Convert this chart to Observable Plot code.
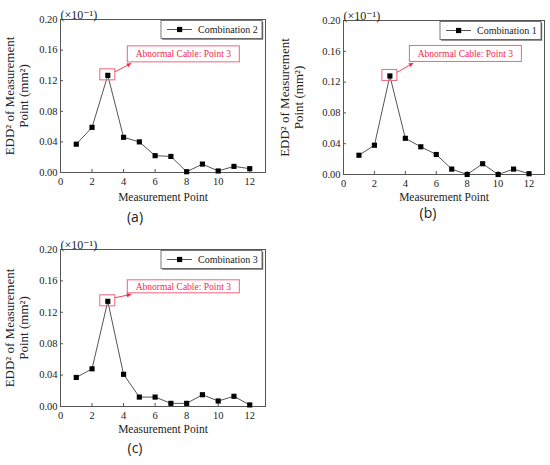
<!DOCTYPE html>
<html><head><meta charset="utf-8">
<script src="https://cdn.jsdelivr.net/npm/d3@7"></script>
<script src="https://cdn.jsdelivr.net/npm/@observablehq/plot@0.6"></script>
<style>
body{margin:0;background:#fff;}
#wrap{position:relative;width:550px;height:465px;background:#fff;overflow:hidden;}
.panel{position:absolute;}
.panel svg{display:block;}
</style></head><body><div id="wrap"></div>
<script>
// ---- data ----
const measurementPoints = [1, 2, 3, 4, 5, 6, 7, 8, 9, 10, 11, 12];
const combination2 = [0.037, 0.059, 0.127, 0.046, 0.040, 0.022, 0.021, 0.001, 0.011, 0.002, 0.008, 0.005];
const combination1 = [0.025, 0.038, 0.128, 0.047, 0.036, 0.026, 0.007, 0.000, 0.014, 0.000, 0.007, 0.001];
const combination3 = [0.037, 0.048, 0.134, 0.041, 0.012, 0.012, 0.004, 0.004, 0.015, 0.007, 0.013, 0.002];
const xTicks = [0, 2, 4, 6, 8, 10, 12];
const yTicks = [0, 0.04, 0.08, 0.12, 0.16, 0.20];
const seriesNames = ["Combination 2", "Combination 1", "Combination 3"];
const panelLabels = ["(a)", "(b)", "(c)"];
const abnormalPoint = 3;
const annotationText = "Abnormal Cable: Point 3";
const xTitle = "Measurement Point";
const yTitle = "EDD² of Measurement\nPoint (mm²)";
const unitText = "(×10⁻¹)";

// ---- layout ----
const SERIF = "'Liberation Serif', 'DejaVu Serif', serif";
const SANS = "'Open Sans', 'DejaVu Sans', sans-serif";
const RED_TEXT = "#f5284c", RED_BOX = "#f2647a";
const panels = [
  {series: combination2, name: seriesNames[0], label: panelLabels[0], left: 0, top: 0, height: 230,
   mL: 60, mR: 10, mT: 19, mB: 58, labDx: -28, labDy: 49, xtDy: 28, boxT: -29, boxB: -13},
  {series: combination1, name: seriesNames[1], label: panelLabels[1], left: 275, top: 0, height: 230,
   mL: 68, mR: 6, mT: 20, mB: 56, labDx: -16, labDy: 43, xtDy: 26, boxT: -30, boxB: -14},
  {series: combination3, name: seriesNames[2], label: panelLabels[2], left: 0, top: 230, height: 235,
   mL: 60, mR: 10, mT: 19, mB: 59, labDx: -28, labDy: 46, xtDy: 26, boxT: -21, boxB: -8}
];

function legendMark(name) {
  return (index, scales, values, dimensions) => {
    const {width, marginRight, marginTop} = dimensions;
    const w = 101, h = 18;
    const x0 = width - marginRight - 3 - w, y0 = marginTop + 1.5;
    const g = d3.create("svg:g");
    g.append("rect").attr("x", x0 + 1.2).attr("y", y0 + 1.2).attr("width", w).attr("height", h).attr("fill", "#666");
    g.append("rect").attr("x", x0).attr("y", y0).attr("width", w).attr("height", h)
      .attr("fill", "white").attr("stroke", "#555").attr("stroke-width", 0.8);
    const cy = y0 + h / 2;
    g.append("line").attr("x1", x0 + 6).attr("x2", x0 + 31).attr("y1", cy).attr("y2", cy)
      .attr("stroke", "#555").attr("stroke-width", 1);
    g.append("rect").attr("x", x0 + 16).attr("y", cy - 2.6).attr("width", 5.2).attr("height", 5.2).attr("fill", "black");
    g.append("text").attr("x", x0 + 37).attr("y", cy).attr("dy", "0.35em").attr("text-anchor", "start")
      .attr("font-family", SERIF).attr("font-size", 10).attr("fill", "#222").text(name);
    return g.node();
  };
}

function annotationMark(series, boxT, boxB) {
  return (index, scales) => {
    const i = measurementPoints.indexOf(abnormalPoint);
    const px = scales.x(abnormalPoint), py = scales.y(series[i]);
    const g = d3.create("svg:g");
    g.append("rect").attr("x", px - 7.5).attr("y", py - 6).attr("width", 15).attr("height", 11)
      .attr("fill", "none").attr("stroke", RED_BOX).attr("stroke-width", 1);
    const bx = px + 20, bw = 112;
    g.append("rect").attr("x", bx).attr("y", py + boxT).attr("width", bw).attr("height", boxB - boxT)
      .attr("fill", "white").attr("stroke", RED_BOX).attr("stroke-width", 1);
    g.append("text").attr("x", bx + bw / 2).attr("y", py + (boxT + boxB) / 2).attr("dy", "0.35em")
      .attr("text-anchor", "middle").attr("font-family", SERIF).attr("font-size", 9.5).attr("fill", RED_TEXT).text(annotationText);
    const x1 = px + 7.5, y1 = py - 3, x2 = px + 24, y2 = py + boxB + 1.5;
    g.append("line").attr("x1", x1).attr("y1", y1).attr("x2", x2).attr("y2", y2)
      .attr("stroke", RED_TEXT).attr("stroke-width", 0.9);
    const a = Math.atan2(y2 - y1, x2 - x1), L = 4.5, W = 2.2;
    const bxp = x2 - L * Math.cos(a), byp = y2 - L * Math.sin(a);
    const pts = [[x2, y2], [bxp - W * Math.sin(a), byp + W * Math.cos(a)], [bxp + W * Math.sin(a), byp - W * Math.cos(a)]];
    g.append("polygon").attr("points", pts.map(p => p.join(",")).join(" ")).attr("fill", RED_TEXT);
    return g.node();
  };
}

const wrap = document.getElementById("wrap");
for (const p of panels) {
  const data = measurementPoints.map((x, i) => ({x, y: p.series[i]}));
  const chart = Plot.plot({
    width: 275, height: p.height,
    marginLeft: p.mL, marginRight: p.mR, marginTop: p.mT, marginBottom: p.mB,
    x: {domain: [0, 13]},
    y: {domain: [0, 0.2]},
    style: {fontFamily: SERIF, fontSize: "10.5px", color: "#222", background: "white", overflow: "visible"},
    marks: [
      Plot.axisX({ticks: xTicks, tickSize: -3, tickPadding: 8, label: null, stroke: "#555", fill: "#222", fontFamily: SERIF, fontSize: 10.5}),
      Plot.axisY({ticks: yTicks, tickFormat: d3.format(".2f"), tickSize: -3, tickPadding: 6, label: null, stroke: "#555", fill: "#222", fontFamily: SERIF, fontSize: 10.5}),
      Plot.frame({stroke: "#555", strokeWidth: 1}),
      Plot.line(data, {x: "x", y: "y", stroke: "#555", strokeWidth: 1}),
      Plot.dot(data, {x: "x", y: "y", symbol: "square", fill: "black", r: 2.9}),
      Plot.text([xTitle], {text: d => d, frameAnchor: "bottom", dy: p.xtDy, fontSize: 11.5, fontFamily: SERIF, fill: "#222"}),
      Plot.text([yTitle], {text: d => d, frameAnchor: "left", textAnchor: "middle", lineAnchor: "middle", rotate: -90, dx: 16 - p.mL, fontSize: 13, lineHeight: 1.05, fontFamily: SERIF, fill: "#222"}),
      Plot.text([unitText], {text: d => d, frameAnchor: "top-left", dy: -9, textAnchor: "start", fontSize: 12, fontFamily: SERIF, fill: "#222"}),
      Plot.text([p.label], {text: d => d, frameAnchor: "bottom", textAnchor: "middle", dx: p.labDx, dy: p.labDy, fontSize: 14, fontFamily: SANS, fill: "#222"}),
      legendMark(p.name),
      annotationMark(p.series, p.boxT, p.boxB)
    ]
  });
  const div = document.createElement("div");
  div.className = "panel";
  div.style.left = p.left + "px";
  div.style.top = p.top + "px";
  div.appendChild(chart);
  wrap.appendChild(div);
}
</script></body></html>
